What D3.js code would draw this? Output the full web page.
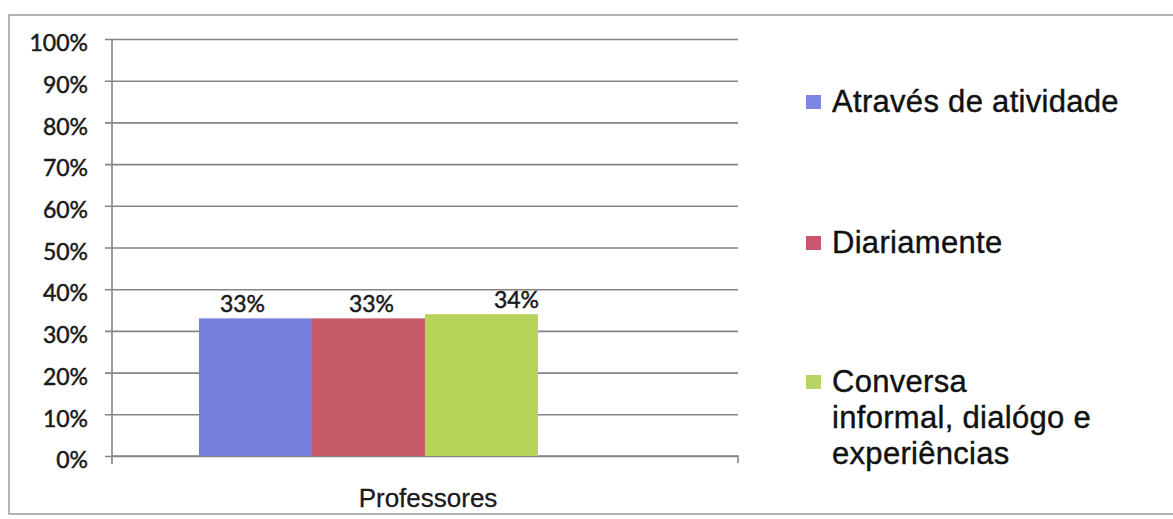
<!DOCTYPE html>
<html>
<head>
<meta charset="utf-8">
<script src="https://cdn.jsdelivr.net/npm/d3@7"></script>
<style>
  html, body { margin: 0; padding: 0; background: #fff; }
  svg { display: block; }
  text { paint-order: stroke; }
</style>
</head>
<body>
<svg id="chart" width="1173" height="519"></svg>
<script>
// Category on the x axis
const categories = ["Professores"];
// Series (one bar each) and their shares
const seriesNames = ["Através de atividade", "Diariamente", "Conversa informal, dialógo e experiências"];
const seriesValues = [0.33, 0.33, 0.34];
// Legend text, broken into lines
const legendLines = [["Através de atividade"], ["Diariamente"], ["Conversa", "informal, dialógo e", "experiências"]];
// Y axis ticks
const yTicks = [0, 0.1, 0.2, 0.3, 0.4, 0.5, 0.6, 0.7, 0.8, 0.9, 1.0];

const barColors = ["#7580dc", "#c65a68", "#b6d35a"];
const keyColors = ["#7d85e2", "#c8566c", "#b9d466"];
// horizontal nudges for the value labels, relative to bar centres
const labelNudge = [-13, 3, 35];

const svg = d3.select("#chart");
const plot = { left: 112, right: 738, top: 39, bottom: 456 };

// outer frame
svg.append("rect")
  .attr("x", 9).attr("y", 15)
  .attr("width", 1175).attr("height", 499)
  .attr("fill", "none").attr("stroke", "#9b9b9b").attr("stroke-width", 1.5);

const y = d3.scaleLinear().domain([0, 1]).range([plot.bottom, plot.top]);
const x0 = d3.scaleBand().domain(categories).range([plot.left, plot.right]);
const x1 = d3.scaleBand().domain(seriesNames)
  .range([plot.left, plot.right])
  .paddingInner(0).paddingOuter(1.27).align(0.303);

// gridlines + y axis
const yAxis = d3.axisLeft(y)
  .tickValues(yTicks)
  .tickFormat(d3.format(".0%"))
  .tickSize(-(plot.right - plot.left))
  .tickPadding(0);

const gy = svg.append("g")
  .attr("transform", `translate(${plot.left},0)`)
  .call(yAxis);
gy.select(".domain").remove();
gy.selectAll(".tick line")
  .attr("x1", -7)
  .attr("stroke", "#858585").attr("stroke-width", 1.6);
gy.selectAll(".tick text")
  .attr("x", -24).attr("dy", "0.38em").attr("y", 3)
  .attr("fill", "#1a1a1a")
  .attr("stroke", "#1a1a1a").attr("stroke-width", 0.5)
  .style("font-family", "Lato, 'Open Sans', sans-serif")
  .style("font-size", "23px");

// vertical axis line
svg.append("line")
  .attr("x1", plot.left).attr("x2", plot.left)
  .attr("y1", plot.top).attr("y2", plot.bottom + 8)
  .attr("stroke", "#858585").attr("stroke-width", 1.6);

// x axis with end ticks
const xAxis = d3.axisBottom(x0).tickSize(0).tickFormat("");
const gx = svg.append("g")
  .attr("transform", `translate(0,${plot.bottom})`)
  .call(xAxis);
gx.select(".domain").attr("stroke", "#858585").attr("stroke-width", 1.6)
  .attr("d", `M${plot.left},0H${plot.right}V7`);

// category label
svg.append("text")
  .attr("x", x0(categories[0]) + x0.bandwidth() / 2 + 3)
  .attr("y", 507)
  .attr("text-anchor", "middle")
  .attr("fill", "#1a1a1a")
  .attr("stroke", "#1a1a1a").attr("stroke-width", 0.3)
  .style("font-family", "'Liberation Sans', Arial, sans-serif")
  .style("font-size", "26px")
  .text(categories[0]);

// bars
svg.append("g").selectAll("rect")
  .data(seriesValues)
  .join("rect")
  .attr("x", (d, i) => x1(seriesNames[i]))
  .attr("y", d => y(d))
  .attr("width", x1.bandwidth())
  .attr("height", d => y(0) - y(d))
  .attr("fill", (d, i) => barColors[i]);

// value labels
svg.append("g").selectAll("text")
  .data(seriesValues)
  .join("text")
  .attr("x", (d, i) => x1(seriesNames[i]) + x1.bandwidth() / 2 + labelNudge[i])
  .attr("y", d => y(d) - 6)
  .attr("text-anchor", "middle")
  .attr("fill", "#1a1a1a")
  .attr("stroke", "#1a1a1a").attr("stroke-width", 0.5)
  .style("font-family", "Lato, 'Open Sans', sans-serif")
  .style("font-size", "23px")
  .text(d => d3.format(".0%")(d));

// legend
const legendTop = [112, 253, 392];
const legend = svg.append("g");
legendLines.forEach((lines, i) => {
  legend.append("rect")
    .attr("x", 806).attr("y", legendTop[i] - 17)
    .attr("width", 15).attr("height", 14)
    .attr("fill", keyColors[i]);
  const t = legend.append("text")
    .attr("x", 832).attr("y", legendTop[i])
    .attr("fill", "#111")
    .attr("stroke", "#111").attr("stroke-width", 0.4)
    .style("font-family", "'Liberation Sans', Arial, sans-serif")
    .style("font-size", "31px")
    .style("letter-spacing", "0.3px");
  lines.forEach((ln, j) => {
    t.append("tspan").attr("x", 832).attr("dy", j === 0 ? 0 : 36).text(ln);
  });
});
</script>
</body>
</html>
